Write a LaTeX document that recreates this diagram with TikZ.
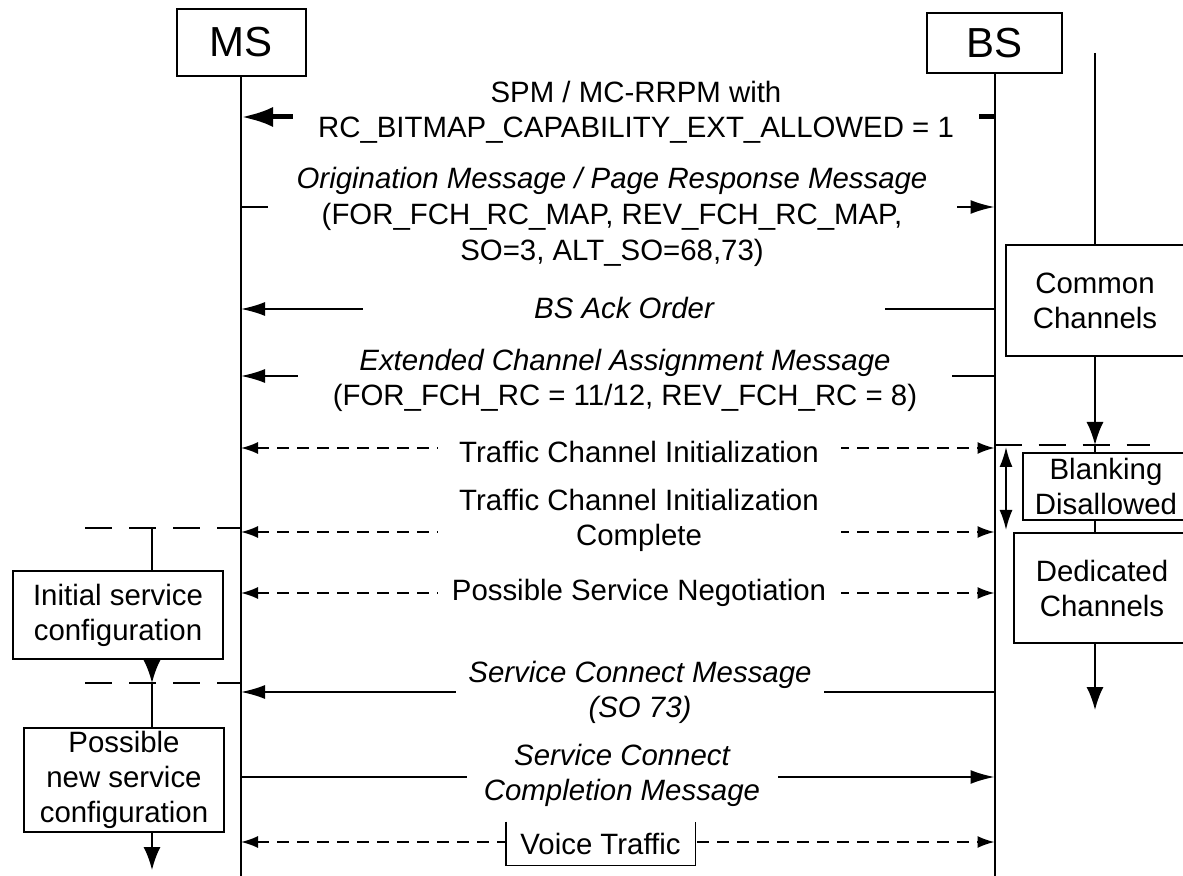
\documentclass[tikz,border=0pt]{standalone}
\usepackage{fontspec}
\setmainfont{Liberation Sans}
\usetikzlibrary{positioning,arrows.meta,calc}

\tikzset{
  entity/.style={draw, line width=1pt, font=\fontsize{21}{25}\selectfont, inner sep=0pt},
  cfgbox/.style={draw, fill=white, line width=1pt, align=center, inner sep=0pt},
  msgtext/.style={fill=white, align=center, inner sep=0pt},
  life/.style={line width=1pt},
  msg/.style={line width=0.9pt, -{Latex[length=12pt,width=7pt]}},
  dmsg/.style={line width=0.9pt, dash pattern=on 6pt off 4pt,
    {Latex[length=8.5pt,width=6pt]}-{Latex[length=8.5pt,width=6pt]}},
  phase/.style={line width=0.9pt, dash pattern=on 13.5pt off 8.5pt},
  flow/.style={line width=0.9pt, -{Latex[length=11.5pt,width=8.5pt]}}
}

\begin{document}
\begin{tikzpicture}[x=0.5pt, y=-0.5pt, font=\fontsize{14.7}{17.5}\selectfont]
  \useasboundingbox (0,0) rectangle (1183,876);
  \node[entity, minimum width=64.5pt, minimum height=33.5pt] (ms) at (241,42.5) {MS};
  \node[entity, minimum width=67.5pt, minimum height=30pt] (bs) at (994.5,43) {BS};
  \coordinate (bot) at (0,876);
  \draw[life] (ms.south) -- (ms |- bot);
  \draw[life] (bs.south) -- (bs |- bot);

  \coordinate (spm) at (0,117);
  \draw[msg, line width=2.5pt, -{Latex[length=16pt,width=10pt]}] (bs |- spm) -- (ms |- spm);
  \node[msgtext, minimum width=343pt] (spm-t) at (636,112.5)
    {SPM / MC-RRPM with\\RC\_BITMAP\_CAPABILITY\_EXT\_ALLOWED = 1};

  \coordinate (orig) at (0,207);
  \draw[msg] (ms |- orig) -- (bs |- orig);
  \node[msgtext, minimum width=344.5pt, font=\fontsize{14.7}{18}\selectfont] (orig-t) at (612,216.5)
    {\itshape Origination Message / Page Response Message\\(FOR\_FCH\_RC\_MAP, REV\_FCH\_RC\_MAP,\\SO=3, ALT\_SO=68,73)};

  \coordinate (ack) at (0,309);
  \draw[msg] (bs |- ack) -- (ms |- ack);
  \node[msgtext, minimum width=261pt] (ack-t) at (624,308.5) {\itshape BS Ack Order};

  \coordinate (ecam) at (0,376);
  \draw[msg] (bs |- ecam) -- (ms |- ecam);
  \node[msgtext, minimum width=327pt] (ecam-t) at (625,380.5)
    {\itshape Extended Channel Assignment Message\\(FOR\_FCH\_RC = 11/12, REV\_FCH\_RC = 8)};

  \coordinate (tci) at (0,448);
  \draw[dmsg] (ms |- tci) -- (bs |- tci);
  \node[msgtext, minimum width=201.5pt] (tci-t) at (639,452) {Traffic Channel Initialization};

  \coordinate (tcic) at (0,532);
  \draw[dmsg] (ms |- tcic) -- (bs |- tcic);
  \node[msgtext, minimum width=201.5pt] (tcic-t) at (639,520) {Traffic Channel Initialization\\Complete};

  \coordinate (psn) at (0,593);
  \draw[dmsg] (ms |- psn) -- (bs |- psn);
  \node[msgtext, minimum width=201.5pt] (psn-t) at (639,593) {Possible Service Negotiation};

  \coordinate (scm) at (0,692);
  \draw[msg] (bs |- scm) -- (ms |- scm);
  \node[msgtext, minimum width=184pt, font=\fontsize{14.7}{17.5}\selectfont\itshape] (scm-t) at (640,692.5)
    {Service Connect Message\\(SO 73)};

  \coordinate (sccm) at (0,777);
  \draw[msg] (ms |- sccm) -- (bs |- sccm);
  \node[msgtext, minimum width=155.5pt, font=\fontsize{14.7}{17.5}\selectfont\itshape] (sccm-t) at (622,775)
    {Service Connect\\Completion Message};

  \coordinate (voice) at (0,842);
  \draw[dmsg] (ms |- voice) -- (bs |- voice);
  \node[msgtext, minimum width=94.5pt, minimum height=21.5pt] (voice-t) at (600.5,843.5) {Voice Traffic};
  \draw[line width=0.9pt] (voice-t.north west) -- (voice-t.south west) -- (voice-t.south east) -- (voice-t.north east);

  \coordinate (sepl1) at (85,528);
  \coordinate (sepl2) at (85,683);
  \coordinate (cfgx) at (152,0);
  \coordinate (cfgend) at (152,870);
  \draw[phase] (sepl1) -- (ms |- sepl1);
  \draw[phase] (sepl2) -- (ms |- sepl2);
  \node[cfgbox, minimum width=105pt, minimum height=44pt] (initcfg) at (118,615) {Initial service\\configuration};
  \node[cfgbox, minimum width=100pt, minimum height=52pt] (newcfg) at (124,780) {Possible\\new service\\configuration};
  \draw[life] (cfgx |- sepl1) -- (cfgx |- initcfg.north);
  \draw[flow] (cfgx |- initcfg.south) -- (cfgx |- sepl2);
  \draw[life] (cfgx |- sepl2) -- (cfgx |- newcfg.north);
  \draw[flow] (cfgx |- newcfg.south) -- (cfgend);

  \coordinate (chtop) at (1095,53);
  \coordinate (sepr) at (1150,445);
  \coordinate (chend) at (1095,710);
  \node[cfgbox, minimum width=89pt, minimum height=55.5pt] (common) at (1095,300.5) {Common\\Channels};
  \draw[phase] (bs |- sepr) -- (sepr);
  \node[cfgbox, minimum width=83pt, minimum height=33.5pt] (blank) at (1106,486.5) {Blanking\\Disallowed};
  \node[cfgbox, minimum width=88pt, minimum height=55pt] (dedic) at (1102,588) {Dedicated\\Channels};
  \draw[life] (chtop) -- (common.north);
  \draw[flow] (common.south) -- (common.south |- sepr);
  \draw[life] (common.south |- sepr) -- (chtop |- blank.north);
  \draw[life] (chtop |- blank.south) -- (chtop |- dedic.north);
  \draw[flow] (chtop |- dedic.south) -- (chend);

  \coordinate (blk1) at (1006,447);
  \coordinate (blk2) at (1006,530);
  \draw[line width=0.9pt, {Latex[length=10pt,width=6.5pt]}-{Latex[length=10pt,width=6.5pt]}] (blk1) -- (blk2);
\end{tikzpicture}
\end{document}
